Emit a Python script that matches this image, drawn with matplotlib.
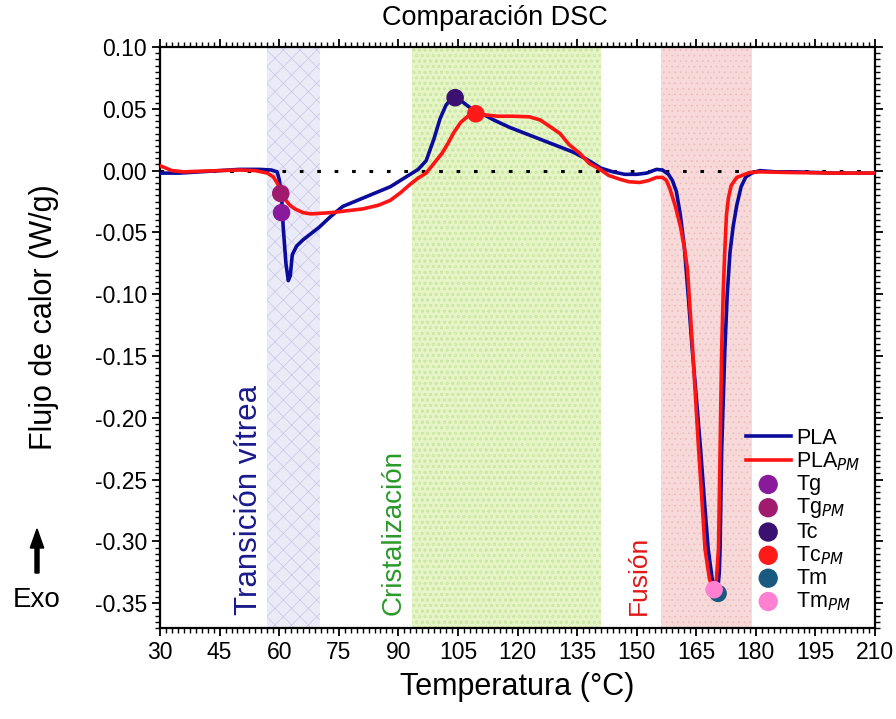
import matplotlib
matplotlib.use("Agg")
import matplotlib.pyplot as plt
from matplotlib.ticker import MultipleLocator

plt.rcParams['font.family'] = ['Liberation Sans', 'DejaVu Sans']
plt.rcParams['hatch.linewidth'] = 0.5

# ---------------- data ----------------
pla_T = [30, 35, 40, 45, 50, 55, 58, 59.5, 60.0, 60.6, 61.0, 61.7, 62.3, 62.8, 63.3, 64.4,
         66, 68, 70, 73, 76, 79, 82, 85, 88, 91, 93, 95, 97, 99, 100.5, 102, 103.3, 104.3,
         106, 108, 110.5, 114, 118, 122, 126, 130, 134, 137.5, 141, 144, 147, 150, 152.5,
         155, 156.5, 158, 159, 160, 161, 162, 163, 164, 165, 166.1, 167, 168, 169, 170.3,
         170.8, 171.0, 171.4, 172.2, 172.8, 173.5, 174.3, 175.2, 176.3, 177.5, 179, 181, 185, 190,
         200, 210]
pla_Q = [-0.002, -0.002, -0.001, 0.000, 0.001, 0.001, 0.0005, -0.001, -0.007, -0.020,
         -0.045, -0.075, -0.089, -0.085, -0.068, -0.061, -0.056, -0.051, -0.046, -0.037,
         -0.029, -0.025, -0.021, -0.017, -0.013, -0.007, -0.003, 0.001, 0.008, 0.026,
         0.042, 0.053, 0.058, 0.059, 0.056, 0.051, 0.047, 0.041, 0.035, 0.030, 0.025,
         0.020, 0.015, 0.009, 0.002, -0.001, -0.003, -0.003, -0.002, 0.001, 0.0005,
         -0.003, -0.008, -0.017, -0.036, -0.062, -0.102, -0.145, -0.183, -0.226, -0.265,
         -0.306, -0.330, -0.343, -0.325, -0.306, -0.226, -0.145, -0.100, -0.066, -0.045,
         -0.028, -0.013, -0.005, -0.002, 0.000, -0.001, -0.001, -0.002, -0.002]

pm_T = [30, 31.5, 33, 36, 40, 45, 50, 54, 57, 58.5, 59.5, 60.6, 61.7, 62.7, 64, 66, 68,
        70.5, 73, 77, 81, 85, 88, 90.5, 93, 95, 97, 99, 101, 102.5, 104, 105.7, 107.5,
        109.3, 112, 115, 119, 123, 125.7, 128, 130.7, 133, 135.7, 138, 140.8, 143, 145.8,
        148, 150.8, 153, 155, 156.5, 157.5, 158.4, 159.7, 161, 162, 162.8, 164.1, 165.6,
        166.4, 167.2, 168.3, 169.3, 170.0, 170.6, 171.0, 171.4, 171.8, 172.2, 172.6, 173.1,
        173.8, 175.2, 178.5, 181, 188, 200, 210]
pm_Q = [0.004, 0.002, 0.000, -0.001, -0.0005, 0.000, 0.0005, 0.000, -0.002, -0.005,
        -0.010, -0.018, -0.024, -0.028, -0.031, -0.034, -0.035, -0.0345, -0.034, -0.0325,
        -0.031, -0.028, -0.024, -0.018, -0.011, -0.006, -0.002, 0.006, 0.014, 0.022,
        0.031, 0.039, 0.044, 0.046, 0.045, 0.044, 0.044, 0.0435, 0.041, 0.036, 0.030,
        0.021, 0.014, 0.006, 0.001, -0.004, -0.007, -0.009, -0.0096, -0.008, -0.0055,
        -0.0055, -0.008, -0.015, -0.0285, -0.045, -0.062, -0.080, -0.145, -0.226, -0.265,
        -0.306, -0.330, -0.340, -0.334, -0.306, -0.226, -0.145, -0.097, -0.064, -0.036,
        -0.022, -0.012, -0.0055, -0.0015, -0.001, -0.0015, -0.002, -0.002]

# characteristic points
pt_labels = ['Tg', 'Tg$_{PM}$', 'Tc', 'Tc$_{PM}$', 'Tm', 'Tm$_{PM}$']
pt_T = [60.6, 60.4, 104.3, 109.5, 170.5, 169.5]
pt_Q = [-0.034, -0.0185, 0.059, 0.046, -0.342, -0.339]
pt_colors = ['#8a1a9c', '#a01a6e', '#3a1070', '#ff1a1a', '#1a5a80', '#ff80d0']

# shaded regions
regions = [(57, 70.3), (93.5, 141), (156, 179)]
region_labels = ['Transición vítrea', 'Cristalización', 'Fusión']
region_text_x = [52.3, 88.7, 150.6]
region_text_colors = ['#1a1a8c', '#2a9a2a', '#e01818']
region_text_sizes = [22.5, 20, 19]

xticks = list(range(30, 211, 15))
yticks = [0.10, 0.05, 0.00, -0.05, -0.10, -0.15, -0.20, -0.25, -0.30, -0.35]

# ---------------- plot ----------------
fig = plt.figure(figsize=(8.96, 7.19), dpi=100)
ax = fig.add_axes([160/896, 1-628/719, 715/896, 581/719])

ax.axvspan(*regions[0], facecolor='#ebebf7', edgecolor='#c6c6e8', hatch='xx', lw=0, zorder=0)
ax.axvspan(*regions[1], facecolor='#e6f5c6', edgecolor='#cbe6a6', hatch='ooo', lw=0, zorder=0)
ax.axvspan(*regions[2], facecolor='#f7d9d9', edgecolor='#ebbcbc', hatch='...', lw=0, zorder=0)

ax.axhline(0, color='black', lw=2.2, linestyle=(0, (1.2, 4.5)), zorder=1)

ax.plot(pla_T, pla_Q, color='#0c0c9c', lw=2.6, label='PLA', zorder=3, solid_joinstyle='round')
ax.plot(pm_T, pm_Q, color='#ff1414', lw=2.6, label='PLA$_{PM}$', zorder=4, solid_joinstyle='round')

for i in range(len(pt_labels)):
    ax.scatter([pt_T[i]], [pt_Q[i]], s=160, color=pt_colors[i], edgecolors='none',
               zorder=6, label=pt_labels[i])

for (x0, x1), lab, tx, c, fs in zip(regions, region_labels, region_text_x,
                                      region_text_colors, region_text_sizes):
    ax.text(tx, -0.3597, lab, rotation=90, color=c, fontsize=fs, ha='center', va='bottom', zorder=5)

ax.set_xlim(30, 210)
ax.set_ylim(-0.37, 0.10)
ax.set_xticks(xticks)
ax.set_yticks(yticks)
ax.set_yticklabels([f'{v:.2f}' for v in yticks])
ax.xaxis.set_minor_locator(MultipleLocator(1.5))
ax.yaxis.set_minor_locator(MultipleLocator(0.005))
ax.tick_params(which='both', direction='out', top=True, right=True, labelsize=16.5, width=1.3)
ax.tick_params(which='major', length=6)
ax.tick_params(which='minor', length=3.5, width=1.0)
for s in ax.spines.values():
    s.set_linewidth(1.6)

ax.set_xlabel('Temperatura (°C)', fontsize=22)
ax.xaxis.set_label_coords(0.5, -0.075)
ax.set_ylabel('Flujo de calor (W/g)', fontsize=22)
ax.yaxis.set_label_coords(-0.141, 0.535)
fig.text(495/896, 1-18/719, 'Comparación DSC', fontsize=19.5, ha='center', va='center')

# Exo arrow
fig.text(37/896, 1-600/719, 'Exo', fontsize=20, ha='center', va='center')
fig.patches.append(matplotlib.patches.FancyArrow(37/896, 1-573/719, 0, 44/719, width=0.0045,
                   head_width=0.015, head_length=19/719, color='black',
                   transform=fig.transFigure, figure=fig, length_includes_head=True))

leg = ax.legend(loc='lower right', bbox_to_anchor=(0.998, 0.004), frameon=False, fontsize=15.5,
                handlelength=2.1, labelspacing=0.06, handletextpad=0.25, borderaxespad=0.2,
                markerscale=1.1)

fig.savefig('out.png', dpi=100)
